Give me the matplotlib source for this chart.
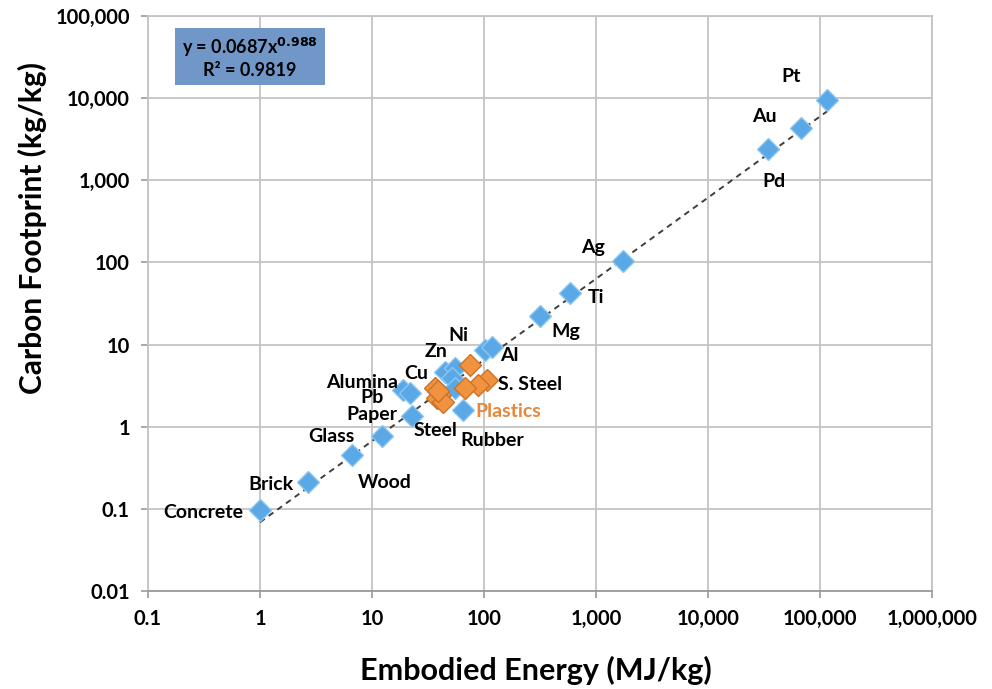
import matplotlib
matplotlib.use("Agg")
import matplotlib.pyplot as plt
import numpy as np

# ---- data ----
metal_names = ["Concrete", "Brick", "Wood", "Glass", "Steel", "Alumina", "Pb", "Cu", "Zn",
               "Paper", "Misc", "Rubber", "Ni", "Al", "Mg", "Ti", "Ag", "Pd", "Au", "Pt"]
metal_energy = [1.0, 2.69, 6.65, 12.3, 22.9, 19.0, 22.0, 45.2, 55.5,
                52.2, 55.5, 65.4, 103, 119, 313, 581, 1730, 34300, 67600, 115600]
metal_carbon = [0.098, 0.214, 0.456, 0.78, 1.36, 2.82, 2.59, 4.67, 5.22,
                3.95, 2.98, 1.61, 8.64, 9.4, 22.4, 42.7, 105, 2410, 4340, 9510]

plastic_energy = [75.6, 107, 89, 68.2, 36.7, 40.7, 38.3, 43.3, 39.1]
plastic_carbon = [5.68, 3.73, 3.24, 2.98, 2.98, 2.45, 2.25, 2.01, 2.74]

fit_coef = 0.0687
fit_exp = 0.988
fit_range = [1.0, 120000.0]

x_ticks = [0.1, 1, 10, 100, 1000, 10000, 100000, 1000000]
x_tick_labels = ["0.1", "1", "10", "100", "1,000", "10,000", "100,000", "1,000,000"]
y_ticks = [0.01, 0.1, 1, 10, 100, 1000, 10000, 100000]
y_tick_labels = ["0.01", "0.1", "1", "10", "100", "1,000", "10,000", "100,000"]

# label text, (x, y) data position, color
labels = [
    ("Pt", 55000, 18600, "black"),
    ("Au", 32200, 5900, "black"),
    ("Pd", 38800, 980, "black"),
    ("Ag", 950, 150, "black"),
    ("Ti", 1000, 37, "black"),
    ("Mg", 535, 14.5, "black"),
    ("Ni", 59, 12.8, "black"),
    ("Zn", 37, 8.2, "black"),
    ("Al", 170, 7.3, "black"),
    ("Cu", 24.9, 4.4, "black"),
    ("Alumina", 8.2, 3.43, "black"),
    ("S. Steel", 260, 3.24, "black"),
    ("Pb", 10, 2.25, "black"),
    ("Paper", 10, 1.40, "black"),
    ("Plastics", 165, 1.52, "#E8873A"),
    ("Steel", 36.7, 0.894, "black"),
    ("Glass", 4.3, 0.755, "black"),
    ("Rubber", 119, 0.675, "black"),
    ("Brick", 1.25, 0.197, "black"),
    ("Wood", 12.9, 0.208, "black"),
    ("Concrete", 0.31, 0.09, "black"),
]

# ---- figure ----
plt.rcParams['font.family'] = ['Lato', 'DejaVu Sans']
fig = plt.figure(figsize=(9.92, 6.89), dpi=100)
ax = fig.add_axes([148/992, 1 - 591/689, (932-148)/992, (591-16)/689])

ax.set_xscale("log")
ax.set_yscale("log")
ax.set_xlim(0.1, 1e6)
ax.set_ylim(0.01, 1e5)

ax.grid(True, which="major", color="#c4c4c4", lw=1.3)
ax.set_axisbelow(True)
for s in ["top", "right", "left"]:
    ax.spines[s].set_color("#c4c4c4")
    ax.spines[s].set_linewidth(1.3)
ax.spines["bottom"].set_color("#9a9a9a")
ax.spines["bottom"].set_linewidth(1.3)

fx = np.logspace(np.log10(fit_range[0]), np.log10(fit_range[1]), 50)
ax.plot(fx, fit_coef * fx ** fit_exp, ls=(0, (3, 2.5)), color="#3f3f3f", lw=1.4, zorder=3)

ax.plot(metal_energy, metal_carbon, ls="none", marker="D", markersize=11.5,
        markerfacecolor="#5aa8e6", markeredgecolor="#8cc6f0", markeredgewidth=1.0, zorder=4)
ax.plot(plastic_energy, plastic_carbon, ls="none", marker="D", markersize=11.5,
        markerfacecolor="#f0923e", markeredgecolor="#c8742c", markeredgewidth=1.0, zorder=5)

for t, x, y, c in labels:
    ax.text(x, y, t, ha="center", va="center", fontsize=14, fontweight="bold",
            color=c, zorder=6)

ax.set_xticks(x_ticks)
ax.set_xticklabels(x_tick_labels)
ax.set_yticks(y_ticks)
ax.set_yticklabels(y_tick_labels)
ax.minorticks_off()
ax.tick_params(axis="both", which="major", length=5, color="#9a9a9a", width=1.2,
               labelsize=14.5, pad=8)
for lab in ax.get_xticklabels() + ax.get_yticklabels():
    lab.set_fontweight("bold")

fig.text(536/992, 1 - 670/689, "Embodied Energy (MJ/kg)", fontsize=22, fontweight="bold",
         ha="center", va="center")
fig.text(32/992, 1 - 228/689, "Carbon Footprint (kg/kg)", fontsize=21.5, fontweight="bold",
         ha="center", va="center", rotation=90)

# equation box
box = plt.Rectangle((175/992, 1 - 85/689), (325-175)/992, (85-28)/689,
                    transform=fig.transFigure, facecolor="#7097c8", edgecolor="none", zorder=10)
fig.patches.append(box)
fig.text(250/992, 1 - 47/689, r"y = 0.0687x$^{\mathbf{0.988}}$", ha="center", va="center",
         fontsize=13, fontweight="bold", zorder=11)
fig.text(250/992, 1 - 71/689, "R² = 0.9819", ha="center", va="center",
         fontsize=13, fontweight="bold", zorder=11)

fig.savefig("out.png", dpi=100)
